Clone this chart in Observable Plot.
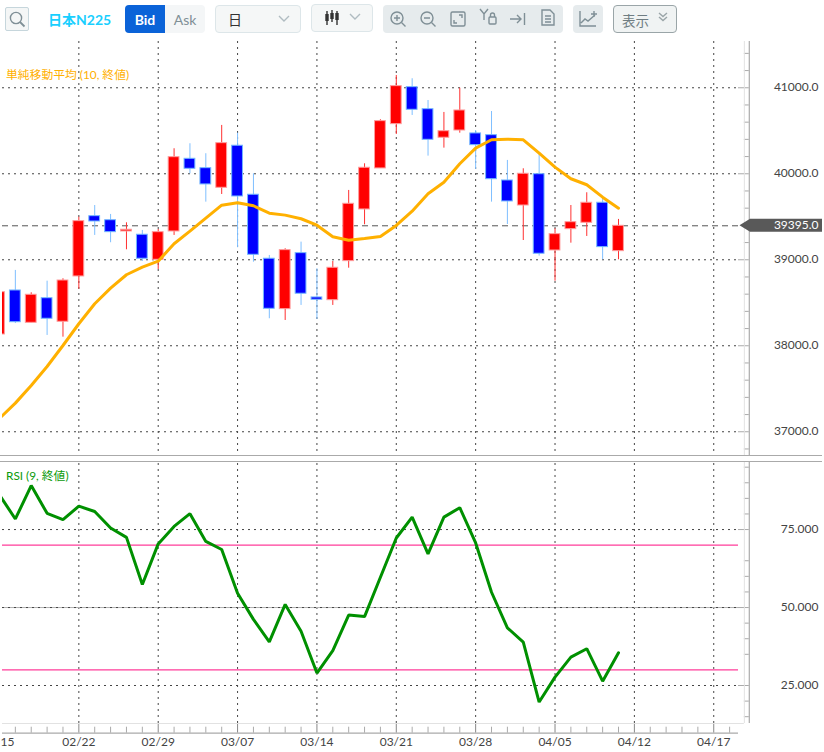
<!DOCTYPE html>
<html lang="ja"><head><meta charset="utf-8">
<script src="https://cdn.jsdelivr.net/npm/d3@7"></script>
<script src="https://cdn.jsdelivr.net/npm/@observablehq/plot@0.6"></script>
<style>
html,body{margin:0;padding:0;background:#fff;overflow:hidden}
body{width:824px;height:752px;font-family:Lato,"Noto Sans CJK JP",sans-serif}
#bar{position:relative;width:824px;height:40px}
#bar>div{position:absolute;box-sizing:border-box;display:flex;align-items:center;justify-content:center}
#bar svg{position:absolute;fill:none;stroke:#7f8f96;stroke-width:1.4}
#charts svg{display:block}
</style></head><body>
<div id="bar">
 <div style="left:5px;top:7px;width:24px;height:24px;background:#f4f6f6;border:1px solid #c6d6dc;border-radius:2px"><svg width="18" height="18" style="left:2px;top:2px"><circle cx="8" cy="8" r="5.6"/><path d="M12 12l4.5 4.5" stroke-width="1.8"/></svg></div>
 <div style="left:48px;top:7px;height:24px;color:#19cfff;font-weight:700;font-size:14px">日本N225</div>
 <div style="left:125px;top:5px;width:40px;height:28px;background:#0b63d8;color:#fff;font-weight:700;font-size:14px;border-radius:4px 0 0 4px">Bid</div>
 <div style="left:165px;top:5px;width:40px;height:28px;background:#f4f6f7;color:#7f8f96;font-size:14px;border-radius:0 4px 4px 0">Ask</div>
 <div style="left:215px;top:5px;width:86px;height:28px;background:#f5f7f7;border:1px solid #dde6e9;border-radius:4px"><span style="position:absolute;left:12px;top:3px;font-size:14px;color:#333">日</span><svg width="12" height="8" style="left:62px;top:9px;stroke:#b0bcc1"><path d="M1 1l5 5 5-5"/></svg></div>
 <div style="left:311px;top:4px;width:62px;height:28px;background:#f5f7f7;border:1px solid #dde6e9;border-radius:4px"><svg width="16" height="16" style="left:12px;top:5px;stroke:#333"><path d="M3 1v14M8 0v12M13 1v14"/><path d="M3 4v7M8 3v6M13 3v7" stroke-width="3.4"/></svg><svg width="12" height="8" style="left:37px;top:8px;stroke:#b0bcc1"><path d="M1 1l5 5 5-5"/></svg></div>
 <div style="left:383px;top:5px;width:180px;height:28px;background:#e6ebed;border-radius:4px">
  <svg width="18" height="18" style="left:6px;top:5px"><circle cx="8" cy="8" r="6"/><path d="M12.5 12.5l4 4M5 8h6M8 5v6"/></svg>
  <svg width="18" height="18" style="left:36px;top:5px"><circle cx="8" cy="8" r="6"/><path d="M12.5 12.5l4 4M5 8h6"/></svg>
  <svg width="18" height="18" style="left:66px;top:5px"><rect x="2" y="2" width="14" height="14" rx="1.5"/><path d="M10 5h3v3M8 13H5v-3"/></svg>
  <svg width="20" height="18" style="left:96px;top:3px"><path d="M1 1l4 5 4-5M5 6v6"/><rect x="10" y="9" width="7" height="7" rx="1"/><path d="M11.500 9V7a2 2 0 0 1 4 0v2"/></svg>
  <svg width="18" height="18" style="left:126px;top:5px"><path d="M1 9h11M8 5l4 4-4 4M15.500 3v12"/></svg>
  <svg width="18" height="18" style="left:156px;top:3px"><path d="M3 2h8l4 4v11H3zM6 8h6M6 11h6M6 14h6"/></svg>
 </div>
 <div style="left:573px;top:5px;width:30px;height:28px;background:#e6ebed;border-radius:4px"><svg width="20" height="18" style="left:5px;top:5px"><path d="M2 1v15h16M3 13l4-4 3 2 7-6M13 4h6M16 1v6"/></svg></div>
 <div style="left:613px;top:5px;width:64px;height:28px;background:#f0f3f3;border:1px solid #9aa5a8;border-radius:4px;color:#6f7d82;font-size:13.5px"><span style="position:absolute;left:8px;top:4px">表示</span><svg width="10" height="10" style="left:44px;top:6px;stroke:#9aa5a8"><path d="M1 1l4 3.500 4-3.500M1 5l4 3.500 4-3.500"/></svg></div>
</div>
<div id="charts"></div>
<script>
const opens  = [38131,38643,38267,38553,38279,38806,39507,39460,39329,39291,39000,39329,40174,40065,39837,40326,39756,39012,38426,39077,38562,38530,38984,39585,40062,40577,41007,40751,40419,40503,40469,40449,39922,39631,39995,39108,39356,39430,39663,39100];
const highs  = [38640,38876,38616,38751,38779,39495,39631,39527,39430,39341,39352,40291,40349,40233,40562,40472,40000,39050,39128,39205,38895,38980,39806,40116,40628,41143,41105,40852,40713,40995,40503,40724,40155,40058,40233,39360,39631,39779,39713,39469];
const lows   = [38100,38259,38267,38120,38100,38658,39283,39198,39116,38980,38887,39283,40000,39670,39759,39140,38972,38314,38294,38469,38306,38469,38902,39407,40062,40457,40678,40205,40298,40472,40050,39670,39410,39224,39042,38751,39193,39271,39000,39000];
const closes = [38623,38274,38593,38314,38759,39449,39445,39321,39349,39012,39321,40193,40058,39876,40356,39736,39058,38430,39112,38605,38535,38907,39651,40070,40612,41019,40744,40395,40495,40736,40333,39937,39678,40000,39070,39298,39437,39663,39147,39395];
const sma    = [37155,37333,37538,37759,38003,38256,38488,38670,38826,38914,38984,39186,39333,39484,39635,39663,39628,39542,39519,39477,39402,39267,39228,39248,39271,39399,39565,39767,39902,40116,40298,40395,40402,40395,40240,40077,39942,39872,39728,39600];
const rsi    = [86.1,78.4,89.1,80.2,78.2,82.5,80.8,75.5,72.5,57.4,70.4,76,80.1,71.2,68.6,54.6,46.2,39,51,42.4,29,36.2,47.6,47.1,59.7,72.3,79,67.2,79,82,70.7,54.9,43.5,38.9,19.7,27.7,34.1,36.8,26.4,35.5];
const firstLabel = "15";
const dateLabels = ["02/22","02/29","03/07","03/14","03/21","03/28","04/05","04/12","04/17"];
const dateIndex  = [5,10,15,20,25,30,35,40,45];
const priceMajor = [37000,38000,39000,40000,41000];
const priceMinor = d3.range(36800,41500,200).filter(v=>v%1000!==0);
const rsiMajor = [25,50,75];
const rsiMinor = [15,20,35,40,45,55,60,65,80,85,90,95];
const rsiBands = [30,70];
const legendMA = "単純移動平均 (10, 終値)";
const legendRSI = "RSI (9, 終値)";

const rows = closes.map((c,i)=>({i,o:opens[i],h:highs[i],l:lows[i],c,up:c>=opens[i],sma:sma[i],rsi:rsi[i]}));
const upBars = rows.filter(d=>d.up), downBars = rows.filter(d=>!d.up);
const lastClose = closes[closes.length-1];
const xDomain=[0.19,46.56], axisRight=47.24, lightRight=46.93, bw=0.34;
const barIdx = d3.range(1,47);
const grid={stroke:"#444",strokeDasharray:"2,4",strokeWidth:1};
const font="Lato,'Noto Sans CJK JP',sans-serif";
const lastTag=(index,s)=>{
  const y=s.y(lastClose);
  const g=d3.create("svg:g");
  g.append("path").attr("fill","#595959").attr("d",`M739.500 ${y}L750 ${y-6.5}H822V${y+6.5}H750Z`);
  return g.node();
};
const priceChart=Plot.plot({
  width:824,height:416,marginLeft:2,marginRight:86,marginTop:1,marginBottom:1,
  style:{background:"transparent",fontFamily:font},
  x:{type:"linear",domain:xDomain,axis:null},
  y:{domain:[36724,41538],axis:null},
  marks:[
    Plot.ruleX(dateIndex,{...grid}),
    Plot.ruleY(priceMajor,{...grid,x1:xDomain[0],x2:xDomain[1]}),
    Plot.ruleY(priceMajor,{x1:xDomain[1],x2:axisRight,stroke:"#aaa"}),
    Plot.ruleY(priceMinor,{x1:lightRight,x2:axisRight,stroke:"#aaa"}),
    Plot.ruleX([lightRight],{stroke:"#e2e2e2"}),
    Plot.ruleX([axisRight],{stroke:"#aaa",strokeWidth:1.2}),
    Plot.ruleY([lastClose],{x1:xDomain[0],x2:xDomain[1],stroke:"#555",strokeDasharray:"6,4"}),
    Plot.ruleX(downBars,{x:"i",y1:"l",y2:"h",stroke:"#7fbfff",clip:true}),
    Plot.ruleX(upBars,{x:"i",y1:"l",y2:"h",stroke:"#ff3030",clip:true}),
    Plot.rect(downBars,{x1:d=>d.i-bw,x2:d=>d.i+bw,y1:"o",y2:"c",fill:"#0000ff",stroke:"#74b8ff",clip:true}),
    Plot.rect(upBars,{x1:d=>d.i-bw,x2:d=>d.i+bw,y1:"o",y2:"c",fill:"#ff0000",stroke:"#ff9c9c",clip:true}),
    Plot.line(rows,{x:"i",y:"sma",stroke:"#ffb000",strokeWidth:3,clip:true,strokeLinejoin:"bevel"}),
    Plot.text([legendMA],{frameAnchor:"top-left",dx:3.5,dy:29.5,text:d=>d,fill:"#ffb000",fontSize:11.8,lineAnchor:"top"}),
    Plot.axisY(priceMajor,{anchor:"right",tickSize:0,tickPadding:80,textAnchor:"end",tickFormat:d=>d.toFixed(1),fontSize:12,fill:"#444",label:null,dy:-0.7}),
    lastTag,
    Plot.text([lastClose],{x:xDomain[1],y:d=>d,dx:80,dy:-0.7,text:d=>d.toFixed(1),textAnchor:"end",fill:"#fff",fontSize:12})
  ]
});
const yBase=9.71, yLight=12.82, yTick=11.63;
const rsiChart=Plot.plot({
  width:824,height:296,marginLeft:2,marginRight:86,marginTop:6,marginBottom:19.300,
  style:{background:"transparent",fontFamily:font},
  x:{type:"linear",domain:xDomain,axis:null},
  y:{domain:[yBase,96.5],axis:null},
  marks:[
    Plot.ruleX(dateIndex,{...grid,y1:yLight,y2:96.5}),
    Plot.ruleX(dateIndex,{y1:yBase,y2:yLight,stroke:"#888"}),
    Plot.ruleX(barIdx.filter(i=>i%5!==0),{y1:yBase,y2:yTick,stroke:"#aaa"}),
    Plot.ruleY([yLight],{x1:xDomain[0],x2:lightRight,stroke:"#e2e2e2"}),
    Plot.ruleY([yBase],{x1:xDomain[0],x2:xDomain[1],stroke:"#aaa",strokeWidth:1.2}),
    Plot.ruleY([50],{x1:xDomain[0],x2:xDomain[1],stroke:"#b0b0b0"}),
    Plot.ruleY(rsiMajor,{...grid,x1:xDomain[0],x2:xDomain[1]}),
    Plot.ruleY(rsiMajor,{x1:xDomain[1],x2:axisRight,stroke:"#aaa"}),
    Plot.ruleY(rsiMinor,{x1:lightRight,x2:axisRight,stroke:"#aaa"}),
    Plot.ruleX([lightRight],{y1:yLight,y2:96.5,stroke:"#e2e2e2"}),
    Plot.ruleX([axisRight],{y1:yLight,y2:96.5,stroke:"#aaa",strokeWidth:1.2}),
    Plot.ruleY(rsiBands,{x1:xDomain[0],x2:xDomain[1],stroke:"#ff3c9a",strokeWidth:1.4}),
    Plot.text([legendRSI],{frameAnchor:"top-left",dx:3.5,dy:9.5,text:d=>d,fill:"#0a9a0a",fontSize:11.8,lineAnchor:"top"}),
    Plot.line(rows,{x:"i",y:"rsi",stroke:"#009000",strokeWidth:3,clip:true,strokeLinejoin:"bevel"}),
    Plot.axisY(rsiMajor,{anchor:"right",tickSize:0,tickPadding:80,textAnchor:"end",tickFormat:d=>d.toFixed(3),fontSize:12,fill:"#444",label:null}),
    Plot.axisX(dateIndex,{anchor:"bottom",tickSize:0,tickPadding:4.5,tickFormat:i=>dateLabels[dateIndex.indexOf(i)],fontSize:12,fill:"#444",label:null}),
    Plot.text([firstLabel],{x:0,frameAnchor:"bottom",lineAnchor:"top",dx:15,dy:4.5,textAnchor:"end",text:d=>d,fontSize:12,fill:"#444"})
  ]
});
const box=document.getElementById("charts");
box.append(priceChart);
box.append(rsiChart);
const sep=document.createElement("div");
sep.style.cssText="position:absolute;left:0;top:455px;width:822px;height:5px;border-top:1px solid #aaa;border-bottom:1px solid #aaa;background:#fff";
document.body.append(sep);
</script>
</body></html>
